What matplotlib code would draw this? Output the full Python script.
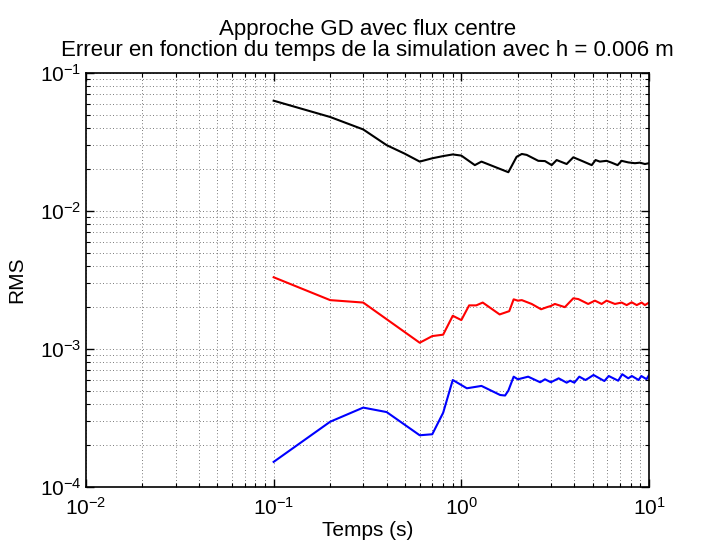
import matplotlib
matplotlib.use('Agg')
import matplotlib.pyplot as plt

# valeurs
t_noir = [0.1, 0.2, 0.3, 0.4, 0.5, 0.6, 0.7, 0.8, 0.9, 1.0, 1.18, 1.28, 1.78, 1.97,
          2.10, 2.23, 2.57, 2.79, 3.03, 3.22, 3.64, 3.95, 4.38, 4.95, 5.19, 5.47,
          5.94, 6.32, 6.80, 7.14, 7.75, 8.41, 8.94, 9.51, 10.0]
rms_noir = [0.063, 0.048, 0.039, 0.030, 0.026, 0.0228, 0.0241, 0.0250, 0.0257, 0.0252,
            0.0215, 0.0228, 0.0191, 0.0247, 0.0259, 0.0255, 0.0231, 0.0230, 0.0215,
            0.0234, 0.0219, 0.0245, 0.0231, 0.0215, 0.0234, 0.0228, 0.0231, 0.0224,
            0.0215, 0.0231, 0.0225, 0.0222, 0.0224, 0.0219, 0.0222]

t_rouge = [0.1, 0.2, 0.3, 0.6, 0.7, 0.8, 0.9, 1.0, 1.1, 1.2, 1.3, 1.6, 1.8, 1.9, 2.0,
           2.1, 2.37, 2.66, 2.86, 3.0, 3.15, 3.56, 3.95, 4.2, 4.74, 5.15, 5.59, 5.94,
           6.58, 7.14, 7.6, 8.08, 8.6, 9.13, 9.51, 10.0]
rms_rouge = [0.00331, 0.00226, 0.00217, 0.00111, 0.00124, 0.00127, 0.00174, 0.00162,
             0.00207, 0.00207, 0.00217, 0.00178, 0.00188, 0.00229, 0.00224, 0.00226,
             0.00212, 0.00194, 0.00201, 0.00205, 0.00212, 0.00201, 0.00233, 0.00230,
             0.00212, 0.00224, 0.00212, 0.00224, 0.00212, 0.00217, 0.00208, 0.00218,
             0.00208, 0.00217, 0.00208, 0.00217]

t_bleu = [0.1, 0.2, 0.3, 0.4, 0.6, 0.7, 0.8, 0.9, 1.07, 1.28, 1.61, 1.71, 1.78, 1.9,
          2.0, 2.27, 2.63, 2.79, 3.0, 3.3, 3.64, 3.8, 4.0, 4.25, 4.58, 4.75, 5.06,
          5.78, 6.1, 6.85, 7.2, 7.75, 8.1, 8.8, 9.1, 9.7, 10.0]
rms_bleu = [0.000152, 0.000297, 0.000376, 0.000349, 0.000237, 0.000241, 0.000345,
            0.000596, 0.000519, 0.00054, 0.000464, 0.00046, 0.000499, 0.00063,
            0.000603, 0.00063, 0.000574, 0.000603, 0.000574, 0.000613, 0.00057,
            0.000589, 0.00057, 0.00063, 0.000596, 0.000613, 0.000648, 0.000586,
            0.000637, 0.000589, 0.000656, 0.000613, 0.000637, 0.000596, 0.000637,
            0.000604, 0.000648]

plt.rcParams['font.family'] = ['Liberation Sans', 'DejaVu Sans']
plt.rcParams['mathtext.fontset'] = 'custom'
plt.rcParams['mathtext.rm'] = 'Liberation Sans'
plt.rcParams['mathtext.it'] = 'Liberation Sans'

fig = plt.figure(figsize=(7.17, 5.51), dpi=100)
ax = fig.add_axes([0.1199, 0.1162, 0.7853, 0.7513])

ax.loglog(t_noir, rms_noir, color='k', lw=1.5)
ax.loglog(t_rouge, rms_rouge, color='r', lw=1.5)
ax.loglog(t_bleu, rms_bleu, color='b', lw=1.5)

ax.set_xlim(1e-2, 1e1)
ax.set_ylim(1e-4, 1e-1)
ax.grid(True, which='both', color='0.3', linestyle=(0, (1, 3)), linewidth=0.6)

ax.tick_params(which='both', direction='in', top=True, right=True, labelsize=15)
ax.tick_params(which='major', length=6, width=1)
ax.tick_params(which='minor', length=3, width=0.8)
ax.tick_params(axis='x', which='both', pad=7)
ax.tick_params(axis='y', which='both', pad=3)
for s in ax.spines.values():
    s.set_linewidth(1.2)

ax.set_title("Approche GD avec flux centre\n"
             "Erreur en fonction du temps de la simulation avec h = 0.006 m",
             fontsize=16, pad=12, linespacing=1.0)
ax.set_xlabel('Temps (s)', fontsize=15, labelpad=2)
ax.set_ylabel('RMS', fontsize=15, labelpad=10)

fig.savefig('out.png', dpi=100)
